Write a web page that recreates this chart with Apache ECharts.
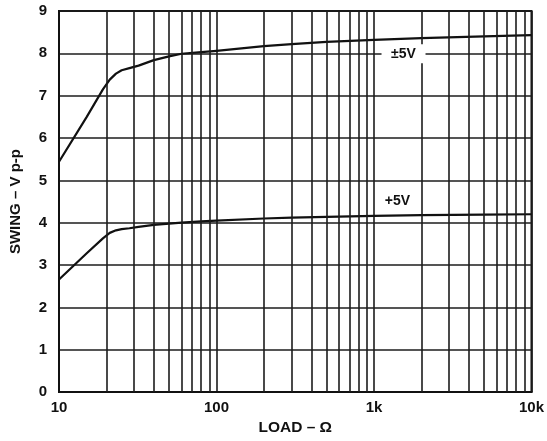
<!DOCTYPE html>
<html>
<head>
<meta charset="utf-8">
<script src="https://cdn.jsdelivr.net/npm/echarts@6/dist/echarts.min.js"></script>
<style>
  html, body { margin: 0; padding: 0; background: #fff; }
  #chart { width: 547px; height: 441px; }
</style>
</head>
<body>
<div id="chart"></div>
<script>
// Output swing versus load resistance
const loads = [10, 15, 19, 21, 23, 25, 28, 32, 40, 50, 60, 80, 100, 200, 300, 500, 1000, 2000, 5000, 10000];
const swingDual = [5.44, 6.50, 7.15, 7.38, 7.52, 7.60, 7.65, 7.71, 7.84, 7.93, 7.99, 8.03, 8.06, 8.17, 8.22, 8.27, 8.32, 8.36, 8.40, 8.43];
const swingSingle = [2.66, 3.28, 3.63, 3.76, 3.82, 3.85, 3.87, 3.90, 3.95, 3.98, 4.00, 4.03, 4.05, 4.10, 4.12, 4.14, 4.16, 4.18, 4.19, 4.20];

const seriesNames = ['\u00b15V', '+5V'];
const xTickLabels = { 10: '10', 100: '100', 1000: '1k', 10000: '10k' };
const yTicks = [0, 1, 2, 3, 4, 5, 6, 7, 8, 9];

// label anchors: [load, volts]
const dualLabelAt = [1540, 7.99];
const singleLabelAt = [1410, 4.52];

// intermediate decade gridlines (20..90, 200..900, 2k..9k)
const minorLoads = [];
[10, 100, 1000].forEach(function (d) {
  for (let k = 2; k <= 9; k++) minorLoads.push(d * k);
});

const FONT = 'Liberation Sans, Arial, Helvetica, sans-serif';
const INK = '#111';
const GRID = '#1c1c1c';

const chart = echarts.init(document.getElementById('chart'), null, { renderer: 'canvas' });

chart.setOption({
  animation: false,
  backgroundColor: '#fff',
  grid: { left: 55, right: 11, top: 11, bottom: 46, show: true, borderColor: INK, borderWidth: 2 },
  xAxis: {
    type: 'log',
    logBase: 10,
    min: 10,
    max: 10000,
    name: 'LOAD \u2013 \u03a9',
    nameLocation: 'middle',
    nameGap: 25,
    nameTextStyle: { fontFamily: FONT, fontWeight: 'bold', fontSize: 15.5, color: INK },
    axisLine: { show: true, lineStyle: { color: INK, width: 2 } },
    axisTick: { show: false },
    axisLabel: {
      fontFamily: FONT, fontWeight: 'bold', fontSize: 15, color: INK, margin: 8,
      formatter: function (v) { return xTickLabels[Math.round(v)] || ''; }
    },
    splitLine: { show: true, lineStyle: { color: GRID, width: 1.6 } },
    minorTick: { show: false },
    minorSplitLine: { show: false }
  },
  yAxis: {
    type: 'value',
    min: 0,
    max: 9,
    interval: 1,
    name: 'SWING \u2013 V p-p',
    nameLocation: 'middle',
    nameGap: 36,
    nameRotate: 90,
    nameTextStyle: { fontFamily: FONT, fontWeight: 'bold', fontSize: 15, color: INK },
    axisLine: { show: true, lineStyle: { color: INK, width: 2 } },
    axisTick: { show: false },
    axisLabel: {
      fontFamily: FONT, fontWeight: 'bold', fontSize: 15, color: INK, margin: 12,
      formatter: function (v) { return yTicks.indexOf(v) >= 0 ? String(v) : ''; }
    },
    splitLine: { show: true, lineStyle: { color: GRID, width: 1.6 } }
  },
  series: [
    {
      name: 'gridlines',
      type: 'line',
      data: [],
      silent: true,
      markLine: {
        silent: true,
        symbol: 'none',
        label: { show: false },
        lineStyle: { color: GRID, width: 1.6, type: 'solid' },
        data: minorLoads.map(function (v) { return { xAxis: v }; })
      },
      z: 1
    },
    {
      name: seriesNames[0],
      type: 'line',
      data: loads.map(function (x, i) { return [x, swingDual[i]]; }),
      smooth: false,
      showSymbol: false,
      lineStyle: { color: INK, width: 2.2, join: 'round' },
      markPoint: {
        silent: true,
        symbol: 'rect',
        symbolSize: [44, 19],
        itemStyle: { color: '#fff' },
        label: {
          show: true, position: 'inside',
          fontFamily: FONT, fontWeight: 'bold', fontSize: 14, color: INK,
          formatter: seriesNames[0]
        },
        data: [{ coord: dualLabelAt }]
      },
      z: 3
    },
    {
      name: seriesNames[1],
      type: 'line',
      data: loads.map(function (x, i) { return [x, swingSingle[i]]; }),
      smooth: false,
      showSymbol: false,
      lineStyle: { color: INK, width: 2.2, join: 'round' },
      markPoint: {
        silent: true,
        symbol: 'rect',
        symbolSize: [32, 16],
        itemStyle: { color: '#fff' },
        label: {
          show: true, position: 'inside',
          fontFamily: FONT, fontWeight: 'bold', fontSize: 14, color: INK,
          formatter: seriesNames[1]
        },
        data: [{ coord: singleLabelAt }]
      },
      z: 3
    }
  ]
});
</script>
</body>
</html>
